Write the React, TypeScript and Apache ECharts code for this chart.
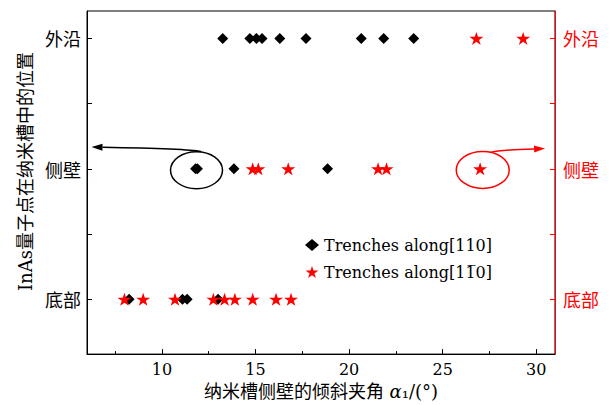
import React, { useEffect, useRef } from "react";
import * as echarts from "echarts";

// Row categories (y positions 0,1,2)
const rowNames = ["底部", "侧壁", "外沿"];
const xLabelTicks = [10, 15, 20, 25, 30];
const xMinorTicks = [7.5, 12.5, 17.5, 22.5, 27.5];
const yTicks = [0, 0.5, 1, 1.5, 2];
const yLabelTicks = [0, 1, 2];

// Trenches along [110] (black diamonds)
const black110Bottom = [8.25, 11.1, 11.35, 13.0];
const black110Side = [11.8, 11.9, 13.85, 18.85];
const black110Top = [13.25, 14.7, 15.05, 15.35, 16.3, 17.7, 20.65, 21.85, 23.45];
// Trenches along [1-10] (red stars)
const red1m10Bottom = [8.0, 9.0, 10.7, 12.75, 13.35, 13.9, 14.85, 16.1, 16.9];
const red1m10Side = [14.85, 15.15, 16.75, 21.55, 22.0, 27.0];
const red1m10Top = [26.8, 29.3];

const seriesNames = ["Trenches along[110]", "Trenches along[11\u03050]"];

const SERIF = "'DejaVu Serif', 'Noto Sans CJK SC', serif";
const CJK = "'Noto Sans CJK SC', 'DejaVu Serif', sans-serif";
const RED = "#ff0000";
const STAR =
  "path://M50,0L61.23,34.55L97.55,34.55L68.16,55.9L79.39,90.45L50,69.1L20.61,90.45L31.84,55.9L2.45,34.55L38.77,34.55Z";

const toPoints = (vals: number[], row: number) => vals.map((v) => [v, row]);

export default function App() {
  const ref = useRef<HTMLDivElement>(null);
  useEffect(() => {
    if (!ref.current) return;
    const chart = echarts.init(ref.current, undefined, { renderer: "svg" });
    const fmt = (v: number) => rowNames[Math.round(v)] ?? "";
    const option: any = {
      animation: false,
      grid: {
        left: 87,
        right: 55,
        top: 11,
        bottom: 49,
        show: true,
        borderColor: "#000",
        borderWidth: 1,
        backgroundColor: "transparent",
      },
      legend: {
        orient: "vertical",
        left: 300,
        top: 232,
        itemWidth: 14,
        itemHeight: 12,
        itemGap: 11,
        textStyle: { fontFamily: SERIF, fontSize: 16, color: "#000" },
        data: seriesNames,
      },
      xAxis: [
        {
          type: "value",
          min: 6,
          max: 31,
          position: "bottom",
          axisLine: { show: true, onZero: false, lineStyle: { color: "#000", width: 1 } },
          axisTick: { show: true, inside: true, length: 5, customValues: xLabelTicks, lineStyle: { color: "#000" } },
          axisLabel: {
            customValues: xLabelTicks,
            color: "#000",
            fontFamily: SERIF,
            fontSize: 16,
            margin: 7,
          },
          splitLine: { show: false },
          name: "纳米槽侧壁的倾斜夹角 {a|α}₁/(°)",
          nameLocation: "middle",
          nameGap: 26,
          nameTextStyle: {
            fontFamily: SERIF,
            fontSize: 18,
            color: "#000",
            rich: { a: { fontFamily: SERIF, fontSize: 18, fontStyle: "italic", color: "#000" } },
          },
        },
        {
          type: "value",
          min: 6,
          max: 31,
          position: "bottom",
          axisLine: { show: false, onZero: false },
          axisTick: { show: true, inside: true, length: 3, customValues: xMinorTicks, lineStyle: { color: "#000" } },
          axisLabel: { show: false },
          splitLine: { show: false },
        },
      ],
      yAxis: [
        {
          type: "value",
          min: -0.42,
          max: 2.21,
          position: "left",
          axisLine: { show: true, onZero: false, lineStyle: { color: "#000", width: 1 } },
          axisTick: { show: true, inside: true, length: 5, customValues: yTicks, lineStyle: { color: "#000" } },
          axisLabel: {
            customValues: yLabelTicks,
            formatter: fmt,
            color: "#000",
            fontFamily: CJK,
            fontSize: 18,
            margin: 6,
          },
          splitLine: { show: false },
          name: "InAs量子点在纳米槽中的位置",
          nameLocation: "middle",
          nameGap: 53,
          nameTextStyle: { fontFamily: SERIF, fontSize: 18, color: "#000", padding: [0, 0, 0, 22] },
        },
        {
          type: "value",
          min: -0.42,
          max: 2.21,
          position: "right",
          axisLine: { show: true, onZero: false, lineStyle: { color: RED, width: 1 } },
          axisTick: { show: true, inside: true, length: 5, customValues: yTicks, lineStyle: { color: RED } },
          axisLabel: {
            customValues: yLabelTicks,
            formatter: fmt,
            color: RED,
            fontFamily: CJK,
            fontSize: 18,
            margin: 8,
          },
          splitLine: { show: false },
        },
      ],
      series: [
        {
          name: seriesNames[0],
          type: "scatter",
          xAxisIndex: 0,
          yAxisIndex: 0,
          symbol: "diamond",
          symbolSize: 11,
          itemStyle: { color: "#000", opacity: 1 },
          data: [
            ...toPoints(black110Bottom, 0),
            ...toPoints(black110Side, 1),
            ...toPoints(black110Top, 2),
          ],
        },
        {
          name: seriesNames[1],
          type: "scatter",
          xAxisIndex: 0,
          yAxisIndex: 0,
          symbol: STAR,
          symbolSize: [14, 13],
          itemStyle: { color: RED, opacity: 1 },
          data: [
            ...toPoints(red1m10Bottom, 0),
            ...toPoints(red1m10Side, 1),
            ...toPoints(red1m10Top, 2),
          ],
        },
      ],
    };
    chart.setOption(option);

    const p = (x: number, y: number) =>
      chart.convertToPixel({ xAxisIndex: 0, yAxisIndex: 0 }, [x, y]) as number[];

    const arrow = (pts: number[][], color: string) => {
      const [s, c, e, tip] = pts.map((q) => p(q[0], q[1]));
      const dx = tip[0] - e[0];
      const dy = tip[1] - e[1];
      const len = Math.hypot(dx, dy) || 1;
      const ux = dx / len;
      const uy = dy / len;
      const hl = 11;
      const hw = 3.5;
      const bx = tip[0] - ux * hl;
      const by = tip[1] - uy * hl;
      return [
        {
          type: "bezierCurve",
          shape: { x1: s[0], y1: s[1], cpx1: c[0], cpy1: c[1], x2: bx, y2: by },
          style: { stroke: color, lineWidth: 1.5, fill: "none" },
          silent: true,
        },
        {
          type: "polygon",
          shape: {
            points: [
              [tip[0], tip[1]],
              [bx - uy * hw, by + ux * hw],
              [bx + uy * hw, by - ux * hw],
            ],
          },
          style: { fill: color },
          silent: true,
        },
      ];
    };

    const bc = p(11.85, 0.99);
    const rc = p(27.14, 0.992);
    chart.setOption({
      graphic: [
        {
          type: "ellipse",
          shape: { cx: bc[0], cy: bc[1], rx: 26, ry: 18.5 },
          style: { stroke: "#000", lineWidth: 1.5, fill: "none" },
          silent: true,
        },
        ...arrow(
          [
            [12.09, 1.133],
            [11.4, 1.155],
            [6.8, 1.166],
            [6.24, 1.167],
          ],
          "#000"
        ),
        {
          type: "ellipse",
          shape: { cx: rc[0], cy: rc[1], rx: 26.5, ry: 18.5 },
          style: { stroke: RED, lineWidth: 1.5, fill: "none" },
          silent: true,
        },
        ...arrow(
          [
            [27.53, 1.125],
            [28.06, 1.146],
            [29.93, 1.152],
            [30.47, 1.156],
          ],
          RED
        ),
      ],
    });

    return () => chart.dispose();
  }, []);

  return (
    <div
      ref={ref}
      style={{ position: "fixed", left: 0, top: 0, width: 610, height: 405, background: "#fff" }}
    />
  );
}
